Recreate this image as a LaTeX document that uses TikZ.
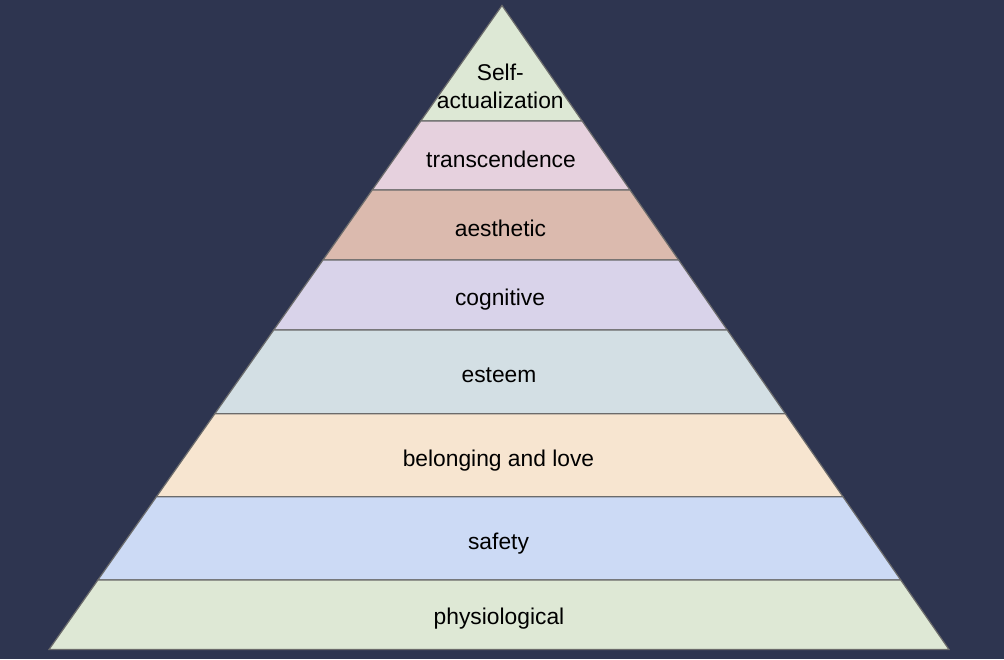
\documentclass[tikz,border=0pt]{standalone}
\usepackage{fontspec}
\setmainfont{Liberation Sans}
\definecolor{bgc}{HTML}{2E3550}
\definecolor{edgec}{HTML}{6B6B6B}
\definecolor{cself}{HTML}{DDE8D5}
\definecolor{ctrans}{HTML}{E6D1DE}
\definecolor{caest}{HTML}{DBBAAE}
\definecolor{ccogn}{HTML}{D9D3EA}
\definecolor{cesteem}{HTML}{D3DFE4}
\definecolor{cbelong}{HTML}{F7E5D0}
\definecolor{csafety}{HTML}{CCDAF5}
\definecolor{cphys}{HTML}{DEE8D5}
\begin{document}
\begin{tikzpicture}[x=1pt,y=-1pt,
  layer/.style={draw=edgec,line width=1.2pt,line join=miter},
  label/.style={font=\fontsize{22.8}{27.3}\selectfont,text=black,inner sep=0pt,anchor=base}]
\fill[bgc] (0,0) rectangle (1004,659);
\useasboundingbox (0,0) rectangle (1004,659);
\coordinate (A) at (502,5.5);
\coordinate (BL) at (49,649.5);
\coordinate (BR) at (949,649.5);
\foreach \i/\f in {1/0.17935,2/0.28649,3/0.39519,4/0.50388,5/0.63385,6/0.76273,7/0.89208}{
  \path (A) -- (BL) coordinate[pos=\f] (L\i);
  \path (A) -- (BR) coordinate[pos=\f] (R\i);
}
\coordinate (L8) at (BL);
\coordinate (R8) at (BR);
% layers
\filldraw[layer,fill=cself] (A) -- (R1) -- (L1) -- cycle;
\filldraw[layer,fill=ctrans] (L1) -- (R1) -- (R2) -- (L2) -- cycle;
\filldraw[layer,fill=caest] (L2) -- (R2) -- (R3) -- (L3) -- cycle;
\filldraw[layer,fill=ccogn] (L3) -- (R3) -- (R4) -- (L4) -- cycle;
\filldraw[layer,fill=cesteem] (L4) -- (R4) -- (R5) -- (L5) -- cycle;
\filldraw[layer,fill=cbelong] (L5) -- (R5) -- (R6) -- (L6) -- cycle;
\filldraw[layer,fill=csafety] (L6) -- (R6) -- (R7) -- (L7) -- cycle;
\filldraw[layer,fill=cphys] (L7) -- (R7) -- (R8) -- (L8) -- cycle;
% labels
\node[label,anchor=center,align=center] (tself) at (500.3,86.3) {Self-\\actualization};
\node[label] (ttrans) at (501,167.5) {transcendence};
\node[label] (taest) at (500.5,236) {aesthetic};
\node[label] (tcogn) at (500,305.5) {cognitive};
\node[label] (testeem) at (499,382.5) {esteem};
\node[label] (tbelong) at (498.5,466) {belonging and love};
\node[label] (tsafety) at (498.5,549) {safety};
\node[label] (tphys) at (499,624.3) {physiological};
\end{tikzpicture}
\end{document}
